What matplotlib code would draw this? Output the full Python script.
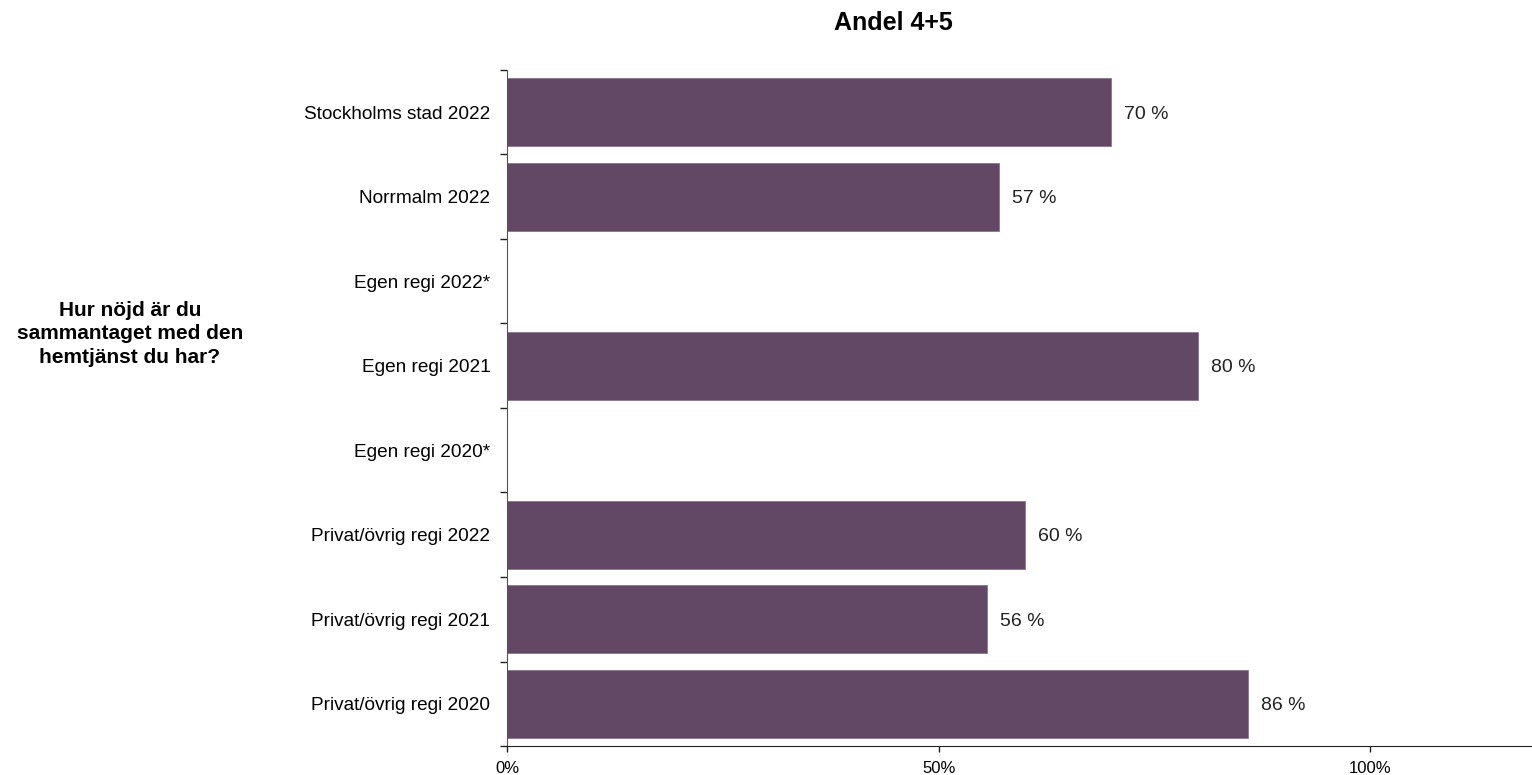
import numpy as np
import matplotlib
matplotlib.use("Agg")
import matplotlib.pyplot as plt

plt.rcParams['font.family'] = ['Liberation Sans', 'DejaVu Sans']

# Data
kategorier = ["Stockholms stad 2022", "Norrmalm 2022", "Egen regi 2022*", "Egen regi 2021",
              "Egen regi 2020*", "Privat/övrig regi 2022", "Privat/övrig regi 2021",
              "Privat/övrig regi 2020"]
andel = [70.0, 57.0, None, 80.0, None, 60.0, 55.6, 85.8]
x_ticks = [0, 50, 100]
x_ticklabels = ["0%", "50%", "100%"]

fig = plt.figure(figsize=(15.32, 7.75), dpi=100)
ax = fig.add_axes([507 / 1532, 29 / 775, 1036 / 1532, 676 / 775])

farg = "#634865"
n = len(kategorier)
y = np.arange(n)
for i, v in enumerate(andel):
    if v is None:
        continue
    ax.barh(y[i], v, height=0.8, color=farg, edgecolor="#8a7590", linewidth=0.6)
    ax.text(v + 1.5, y[i], f"{v:.0f} %", va="center_baseline", ha="left", fontsize=14, color="#222222")

ax.set_ylim(n - 0.5, -0.5)
ax.set_xlim(0, 120)
ax.set_yticks(y)
ax.set_yticklabels(kategorier, fontsize=13.7)
ax.set_yticks(np.arange(-0.5, n, 1), minor=True)
ax.tick_params(axis="y", which="major", length=0, pad=12)
ax.tick_params(axis="y", which="minor", length=5, width=1, color="#222222")
ax.set_xticks(x_ticks)
ax.set_xticklabels(x_ticklabels, fontsize=12)
ax.tick_params(axis="x", length=4, width=1, pad=7, color="#222222")

for s in ["top", "right"]:
    ax.spines[s].set_visible(False)
ax.spines["left"].set_color("#555555")
ax.spines["bottom"].set_color("#222222")

fig.text(893 / 1532, 1 - 30 / 775, "Andel 4+5", ha="center", va="baseline",
         fontsize=18, fontweight="bold")
fig.text(130 / 1532, 1 - 334 / 775, "Hur nöjd är du\nsammantaget med den\nhemtjänst du har?",
         ha="center", va="center", fontsize=15, fontweight="bold", linespacing=1.32)

fig.savefig("out.png", dpi=100)
